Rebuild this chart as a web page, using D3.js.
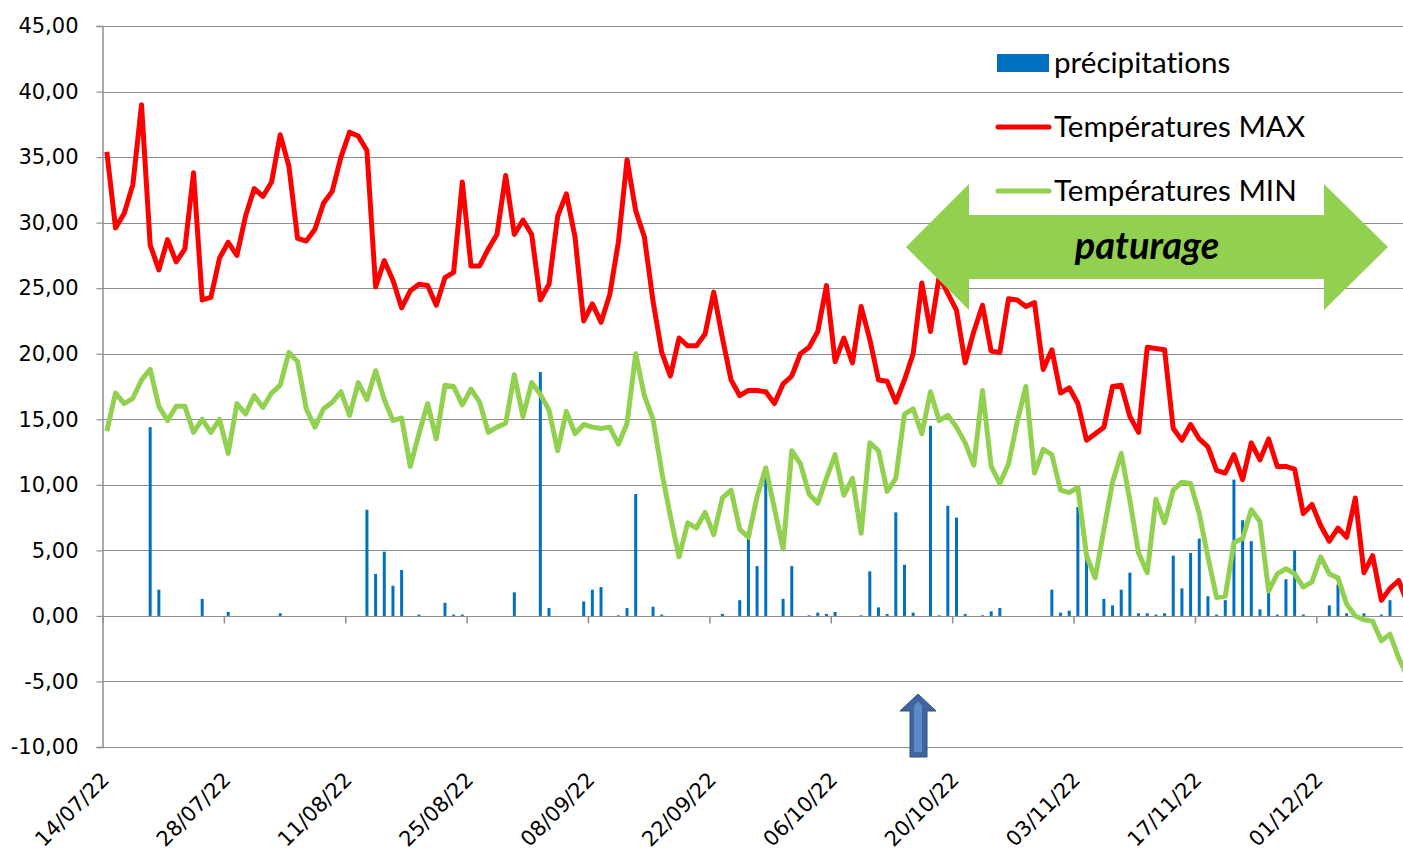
<!DOCTYPE html>
<html>
<head>
<meta charset="utf-8">
<script src="https://cdn.jsdelivr.net/npm/d3@7"></script>
<style>
  body { margin: 0; background: #fff; }
</style>
</head>
<body>
<div id="chart"></div>
<script>
// daily series, first day = 14/07/22
const startDay = "2022-07-14"
const tickLabels = ["14/07/22", "28/07/22", "11/08/22", "25/08/22", "08/09/22", "22/09/22",
    "06/10/22", "20/10/22", "03/11/22", "17/11/22", "01/12/22"]
const yTicks = [-10, -5, 0, 5, 10, 15, 20, 25, 30, 35, 40, 45]

const tmax = [
    35.4, 29.6, 30.7, 32.9, 39.0, 28.3, 26.4, 28.7, 27.0, 28.0,
    33.8, 24.1, 24.3, 27.3, 28.5, 27.5, 30.5, 32.6, 32.0, 33.1,
    36.7, 34.3, 28.8, 28.6, 29.5, 31.5, 32.4, 35.0, 36.9, 36.6,
    35.5, 25.1, 27.1, 25.6, 23.5, 24.8, 25.3, 25.2, 23.7, 25.8,
    26.2, 33.1, 26.7, 26.7, 28.0, 29.1, 33.6, 29.1, 30.2, 29.1,
    24.1, 25.3, 30.5, 32.2, 28.9, 22.5, 23.8, 22.4, 24.5, 28.5,
    34.8, 30.9, 28.9, 24.0, 20.1, 18.3, 21.2, 20.6, 20.6, 21.5,
    24.7, 21.2, 18.0, 16.8, 17.2, 17.2, 17.1, 16.2, 17.7, 18.3,
    20.0, 20.5, 21.7, 25.2, 19.4, 21.2, 19.3, 23.6, 21.1, 18.0,
    17.9, 16.3, 18.0, 20.0, 25.4, 21.7, 25.9, 24.6, 23.3, 19.3,
    21.7, 23.7, 20.2, 20.1, 24.2, 24.1, 23.6, 23.9, 18.8, 20.3,
    17.0, 17.4, 16.2, 13.4, 13.9, 14.4, 17.5, 17.6, 15.2, 14.0,
    20.5, 20.4, 20.3, 14.3, 13.4, 14.6, 13.5, 12.9, 11.1, 10.9,
    12.3, 10.4, 13.2, 11.9, 13.5, 11.4, 11.4, 11.2, 7.8, 8.5,
    6.9, 5.7, 6.7, 6.0, 9.0, 3.3, 4.6, 1.2, 2.1, 2.7,
    1.0
]

const tmin = [
    14.1, 17.0, 16.2, 16.6, 18.0, 18.8, 16.0, 14.9, 16.0, 16.0,
    14.0, 15.0, 14.0, 15.0, 12.4, 16.2, 15.4, 16.8, 15.9, 17.0,
    17.6, 20.1, 19.4, 15.8, 14.4, 15.8, 16.3, 17.1, 15.3, 17.8,
    16.5, 18.7, 16.5, 14.9, 15.1, 11.4, 13.9, 16.2, 13.5, 17.6,
    17.5, 16.1, 17.3, 16.3, 14.0, 14.4, 14.7, 18.4, 15.2, 17.8,
    16.9, 15.7, 12.6, 15.6, 13.9, 14.6, 14.4, 14.3, 14.4, 13.1,
    14.7, 20.0, 16.8, 15.0, 11.0, 7.6, 4.5, 7.1, 6.7, 7.9,
    6.2, 9.0, 9.6, 6.6, 6.0, 9.1, 11.3, 8.2, 5.1, 12.6,
    11.6, 9.3, 8.6, 10.5, 12.3, 9.2, 10.5, 6.3, 13.2, 12.6,
    9.5, 10.5, 15.4, 15.8, 13.9, 17.1, 14.9, 15.3, 14.4, 13.2,
    11.5, 17.2, 11.4, 10.1, 11.6, 14.8, 17.5, 10.9, 12.7, 12.3,
    9.6, 9.4, 9.8, 4.6, 2.9, 6.6, 10.2, 12.4, 8.8, 4.8,
    3.3, 8.9, 7.1, 9.6, 10.2, 10.1, 7.8, 4.5, 1.4, 1.5,
    5.6, 5.9, 8.1, 7.2, 1.9, 3.2, 3.6, 3.2, 2.2, 2.6,
    4.5, 3.2, 2.9, 0.9, 0.0, -0.3, -0.4, -1.9, -1.4, -3.2,
    -4.6
]

const precip = [
    0, 0, 0, 0, 0, 14.4, 2.0, 0, 0, 0,
    0, 1.3, 0, 0, 0.3, 0, 0, 0, 0, 0,
    0.2, 0, 0, 0, 0, 0, 0, 0, 0, 0,
    8.1, 3.2, 4.9, 2.3, 3.5, 0, 0.1, 0, 0, 1.0,
    0.1, 0.1, 0, 0, 0, 0, 0, 1.8, 0, 0,
    18.6, 0.6, 0, 0, 0, 1.1, 2.0, 2.2, 0, 0.05,
    0.6, 9.3, 0, 0.7, 0.1, 0, 0, 0, 0, 0,
    0, 0.15, 0, 1.2, 6.5, 3.8, 11.4, 0, 1.3, 3.8,
    0, 0.05, 0.25, 0.15, 0.3, 0, 0, 0.05, 3.4, 0.65,
    0.15, 7.9, 3.9, 0.25, 0, 14.5, 0.05, 8.4, 7.5, 0.15,
    0, 0.05, 0.35, 0.6, 0, 0, 0, 0, 0, 2.0,
    0.25, 0.4, 8.3, 4.6, 0, 1.3, 0.8, 2.0, 3.3, 0.2,
    0.2, 0.1, 0.2, 4.6, 2.1, 4.8, 5.9, 1.5, 0.1, 1.2,
    10.4, 7.3, 5.7, 0.5, 1.8, 0.1, 2.8, 5.0, 0.1, 0,
    0, 0.8, 2.4, 0.2, 0, 0.2, 0, 0.1, 1.2, 0,
    0
]

const seriesNames = ["précipitations", "Températures MAX", "Températures MIN"]
const seriesColors = ["#0070C0", "#FF0000", "#92D050"]
const bandLabel = "paturage"

width = 1403
height = 854
margin = ({ top: 26, right: 0, bottom: 107, left: 102.5 })

const svg = d3.select("#chart")
    .append("svg")
    .attr("width", width)
    .attr("height", height)
    .style("display", "block")
    .style("font-family", "'DejaVu Sans', Verdana, sans-serif");

const start = d3.utcParse("%Y-%m-%d")(startDay)
const days = tmax.map((d, i) => d3.utcHour.offset(d3.utcDay.offset(start, i), 12))

var x = d3.scaleUtc()
    .domain([start, d3.utcDay.offset(start, 150)])
    .range([margin.left, width - margin.right]);

var y = d3.scaleLinear()
    .domain([-10, 45])
    .range([height - margin.bottom, margin.top]);

const fr = d3.formatLocale({ decimal: ",", thousands: " ", grouping: [3], currency: ["", " €"], minus: "-" })
const fmt = fr.format(".2f")

// horizontal grid
svg.append("g")
    .selectAll("line")
    .data(yTicks)
    .join("line")
    .attr("x1", margin.left)
    .attr("x2", width)
    .attr("y1", d => Math.round(y(d)) + 0.5)
    .attr("y2", d => Math.round(y(d)) + 0.5)
    .attr("stroke", "#8e8e8e")
    .attr("stroke-width", 1.2);

// Y axis
const yAxis = svg.append("g")
    .attr("transform", "translate(" + margin.left + ",0)")
    .call(d3.axisLeft(y).tickValues(yTicks).tickSize(6).tickPadding(18).tickFormat(fmt));
yAxis.select(".domain").attr("stroke", "#8e8e8e").attr("stroke-width", 1.5);
yAxis.selectAll(".tick line").attr("stroke", "#8e8e8e").attr("stroke-width", 1.2);
yAxis.selectAll("text")
    .style("font-size", "21px")
    .style("font-family", "'DejaVu Sans', Verdana, sans-serif")
    .attr("fill", "#000");

// X axis ticks on the zero line
const parseTick = d3.utcParse("%d/%m/%y")
const tickDates = tickLabels.map(parseTick)
const xAxis = svg.append("g")
    .attr("transform", "translate(0," + (Math.round(y(0)) + 0.5) + ")")
    .call(d3.axisBottom(x).tickValues(tickDates).tickSize(7).tickFormat(""));
xAxis.select(".domain").remove();
xAxis.selectAll(".tick line").attr("stroke", "#8e8e8e").attr("stroke-width", 1.5);

svg.append("g")
    .selectAll("text")
    .data(tickLabels)
    .join("text")
    .attr("transform", (d, i) => "translate(" + (x(tickDates[i]) + 8) + ",781) rotate(-45)")
    .attr("text-anchor", "end")
    .style("font-size", "21px")
    .attr("fill", "#000")
    .text(d => d);

svg.append("clipPath")
    .attr("id", "plot")
    .append("rect")
    .attr("x", margin.left)
    .attr("y", margin.top)
    .attr("width", width - margin.left)
    .attr("height", height - margin.bottom - margin.top);

const plot = svg.append("g").attr("clip-path", "url(#plot)");

// precipitation bars
plot.selectAll("rect.bar")
    .data(precip)
    .join("rect")
    .attr("class", "bar")
    .attr("x", (d, i) => x(days[i]) - 1.5)
    .attr("width", 3)
    .attr("y", d => y(d))
    .attr("height", d => y(0) - y(d))
    .attr("fill", seriesColors[0]);

const line = d3.line()
    .x((d, i) => x(days[i]))
    .y(d => y(d))
    .curve(d3.curveLinear);

plot.append("path")
    .datum(tmax)
    .attr("fill", "none")
    .attr("stroke", seriesColors[1])
    .attr("stroke-width", 5)
    .attr("stroke-linejoin", "round")
    .attr("d", line);

plot.append("path")
    .datum(tmin)
    .attr("fill", "none")
    .attr("stroke", seriesColors[2])
    .attr("stroke-width", 5)
    .attr("stroke-linejoin", "round")
    .attr("d", line);

// double arrow "paturage"
const arrow = [[906, 247], [969, 184], [969, 215], [1324, 215], [1324, 184], [1388, 247],
    [1324, 310], [1324, 279], [969, 279], [969, 310]]
svg.append("polygon")
    .attr("points", arrow.map(p => p.join(",")).join(" "))
    .attr("fill", "#92D050");
svg.append("text")
    .attr("x", 1147)
    .attr("y", 259)
    .attr("text-anchor", "middle")
    .style("font-family", "Lato, sans-serif")
    .style("font-weight", "bold")
    .style("font-style", "italic")
    .style("font-size", "38px")
    .attr("fill", "#000")
    .text(bandLabel);

// small blue arrow under the axis
const up = [[918, 694], [936, 711], [927, 711], [927, 757], [910, 757], [910, 711], [900, 711]]
svg.append("polygon")
    .attr("points", up.map(p => p.join(",")).join(" "))
    .attr("fill", "#3F649E")
    .attr("stroke", "#2F4F80")
    .attr("stroke-width", 1);
svg.append("polygon")
    .attr("points", "918,701 922,706 922,752 914,752 914,706")
    .attr("fill", "#5B8AC9");

// legend
const legend = svg.append("g")
seriesNames.forEach((d, i) => {
    const ly = 63 + 64 * i
    if (i == 0) {
        legend.append("rect")
            .attr("x", 997).attr("y", ly - 9)
            .attr("width", 52).attr("height", 18)
            .attr("fill", seriesColors[i])
    } else {
        legend.append("line")
            .attr("x1", 998).attr("x2", 1049)
            .attr("y1", ly).attr("y2", ly)
            .attr("stroke", seriesColors[i])
            .attr("stroke-width", 5)
            .attr("stroke-linecap", "round")
    }
    legend.append("text")
        .attr("x", 1054)
        .attr("y", ly + 10)
        .style("font-family", "Lato, sans-serif")
        .style("font-size", "29.6px")
        .style("font-variant-ligatures", "none")
        .attr("fill", "#000")
        .text(d)
});
</script>
</body>
</html>
